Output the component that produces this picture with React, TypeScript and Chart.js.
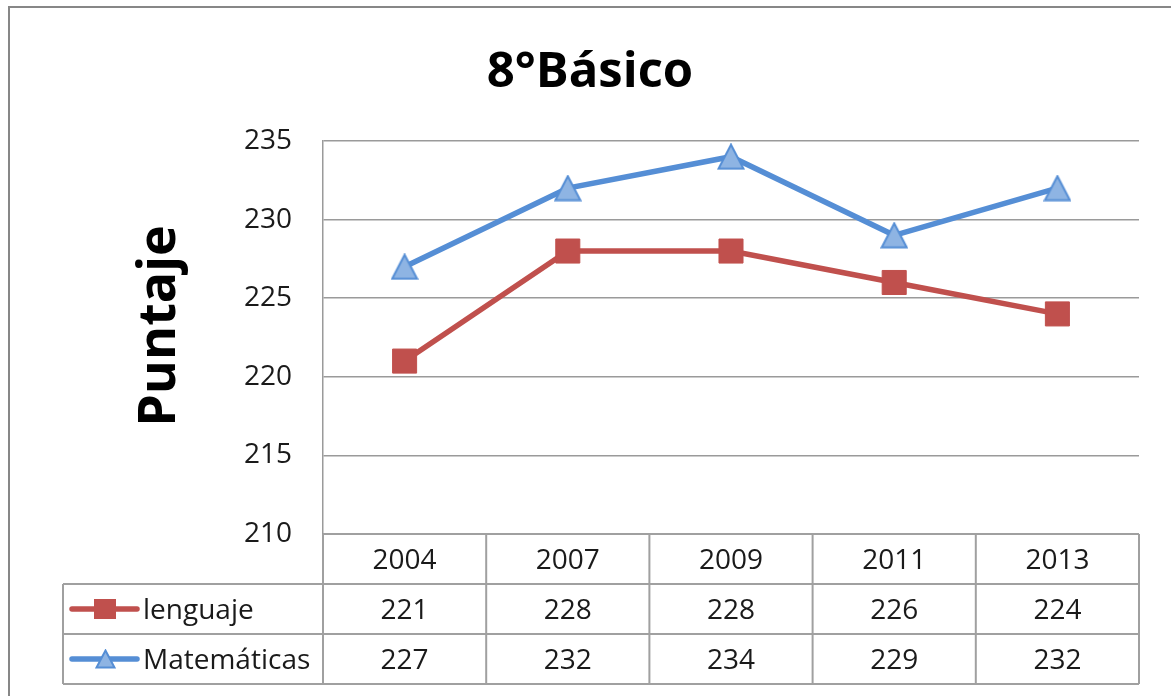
import React, { useEffect, useRef } from 'react';
import { Chart, registerables } from 'chart.js';

Chart.register(...registerables);

const categories = ['2004', '2007', '2009', '2011', '2013'];
const lenguaje = [221, 228, 228, 226, 224];
const matematicas = [227, 232, 234, 229, 232];
const seriesNames = ['lenguaje', 'Matemáticas'];
const yMin = 210;
const yMax = 235;
const yStep = 5;
const chartTitle = '8°Básico';
const yAxisTitle = 'Puntaje';

const W = 1171;
const H = 696;
const FONT = "'Open Sans', 'Noto Sans', sans-serif";
const RED = '#C0504D';
const BLUE = '#558ED5';
const BLUE_FILL = '#8EB4E3';
const GRID = '#9A9A9A';
const TABLE = '#A0A0A0';

function makeTriangle(w: number, h: number) {
  const c = document.createElement('canvas');
  c.width = w;
  c.height = h;
  const ctx = c.getContext('2d')!;
  ctx.beginPath();
  ctx.moveTo(w / 2, 1.5);
  ctx.lineTo(w - 1.5, h - 1.5);
  ctx.lineTo(1.5, h - 1.5);
  ctx.closePath();
  ctx.fillStyle = BLUE_FILL;
  ctx.fill();
  ctx.strokeStyle = BLUE;
  ctx.lineWidth = 2;
  ctx.lineJoin = 'miter';
  ctx.stroke();
  return c;
}

export default function App() {
  const ref = useRef<HTMLCanvasElement | null>(null);

  useEffect(() => {
    const canvas = ref.current;
    if (!canvas) return;
    const tri = makeTriangle(28, 27);
    const triSmall = makeTriangle(21, 20);

    const tablePlugin = {
      id: 'tablePlugin',
      afterDraw(chart: any) {
        const ctx = chart.ctx as CanvasRenderingContext2D;
        const area = chart.chartArea;
        ctx.save();
        // outer frame (top + left visible)
        ctx.strokeStyle = '#878787';
        ctx.lineWidth = 2;
        ctx.beginPath();
        ctx.moveTo(9, H);
        ctx.lineTo(9, 7);
        ctx.lineTo(W, 7);
        ctx.stroke();

        // chart title
        ctx.font = `bold 49px ${FONT}`;
        ctx.textAlign = 'center';
        ctx.textBaseline = 'alphabetic';
        ctx.fillStyle = '#000';
        ctx.fillText(chartTitle, 590, 87);

        // y axis title
        ctx.save();
        ctx.translate(160, 326);
        ctx.rotate(-Math.PI / 2);
        ctx.font = `bold 52px ${FONT}`;
        ctx.textAlign = 'center';
        ctx.textBaseline = 'middle';
        ctx.fillStyle = '#000';
        ctx.fillText(yAxisTitle, 0, 0);
        ctx.restore();

        // data table
        const rowH = 50;
        const top = area.bottom;
        const left = area.left;
        const right = area.right;
        const tableLeft = 63;
        const n = categories.length;
        const colW = (right - left) / n;
        ctx.strokeStyle = TABLE;
        ctx.lineWidth = 2;
        ctx.beginPath();
        ctx.moveTo(left, top);
        ctx.lineTo(right, top);
        for (let r = 1; r <= 3; r++) {
          ctx.moveTo(tableLeft, top + r * rowH);
          ctx.lineTo(right, top + r * rowH);
        }
        ctx.moveTo(tableLeft, top + rowH);
        ctx.lineTo(tableLeft, top + 3 * rowH);
        for (let i = 0; i <= n; i++) {
          const x = left + i * colW;
          ctx.moveTo(x, top);
          ctx.lineTo(x, top + 3 * rowH);
        }
        ctx.stroke();

        ctx.fillStyle = '#1a1a1a';
        ctx.font = `28px ${FONT}`;
        ctx.textAlign = 'center';
        ctx.textBaseline = 'alphabetic';
        const xs = chart.scales.x;
        const rows = [categories, lenguaje.map(String), matematicas.map(String)];
        rows.forEach((row, r) => {
          const base = top + r * rowH + rowH / 2 + 10;
          row.forEach((t, i) => {
            ctx.fillText(t, xs.getPixelForValue(i), base);
          });
        });

        // legend keys
        ctx.textAlign = 'left';
        seriesNames.forEach((name, k) => {
          const cy = top + (k + 1) * rowH + rowH / 2;
          ctx.strokeStyle = k === 0 ? RED : BLUE;
          ctx.lineWidth = 5.5;
          ctx.lineCap = 'round';
          ctx.beginPath();
          ctx.moveTo(72, cy);
          ctx.lineTo(137, cy);
          ctx.stroke();
          if (k === 0) {
            ctx.fillStyle = RED;
            ctx.fillRect(94, cy - 10, 22, 20);
          } else {
            ctx.drawImage(triSmall, 95, cy - 10);
          }
          ctx.fillStyle = '#1a1a1a';
          ctx.fillText(name, 143, cy + 10);
        });
        ctx.restore();
      },
    };

    const chart = new Chart(canvas, {
      type: 'line',
      data: {
        labels: categories,
        datasets: [
          {
            label: seriesNames[0],
            data: lenguaje,
            borderColor: RED,
            backgroundColor: RED,
            borderWidth: 5.5,
            pointStyle: 'rect',
            pointRadius: 17,
            pointBorderWidth: 1,
            pointBorderColor: RED,
            pointBackgroundColor: RED,
            tension: 0,
            clip: false as any,
          },
          {
            label: seriesNames[1],
            data: matematicas,
            borderColor: BLUE,
            backgroundColor: BLUE_FILL,
            borderWidth: 5.5,
            pointStyle: tri as any,
            pointRadius: 14,
            tension: 0,
            clip: false as any,
          },
        ],
      },
      options: {
        responsive: false,
        animation: false,
        events: [],
        layout: { padding: { top: 141, bottom: H - 534, right: W - 1139, left: 0 } },
        plugins: {
          legend: { display: false },
          tooltip: { enabled: false },
          title: { display: false },
        },
        scales: {
          x: {
            type: 'category',
            display: false,
            offset: true,
          },
          y: {
            min: yMin,
            max: yMax,
            afterFit: (scale: any) => {
              scale.width = 323;
            },
            ticks: {
              stepSize: yStep,
              color: '#1a1a1a',
              padding: 31,
              font: { family: FONT, size: 28 },
            },
            grid: { color: GRID, lineWidth: 1.5, drawTicks: false },
            border: { display: true, color: GRID, width: 1.5 },
          },
        },
      },
      plugins: [tablePlugin],
    });
    return () => chart.destroy();
  }, []);

  return (
    <div style={{ position: 'absolute', left: 0, top: 0, width: W, height: H, background: '#fff' }}>
      <canvas ref={ref} width={W} height={H} style={{ display: 'block' }} />
    </div>
  );
}
